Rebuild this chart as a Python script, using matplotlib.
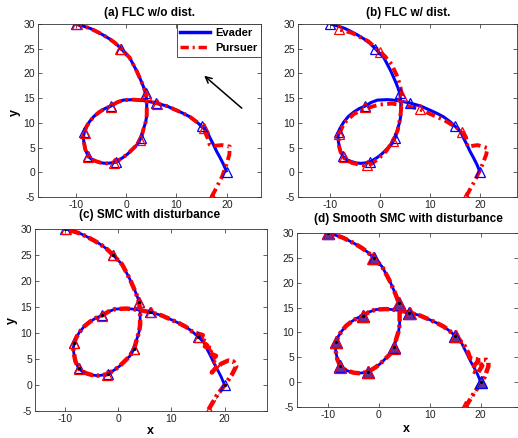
"""Evader / pursuer trajectories for four controllers (2x2 panels)."""

import matplotlib
matplotlib.use("Agg")
import matplotlib.pyplot as plt
from matplotlib.lines import Line2D

plt.rcParams["font.family"] = ["Liberation Sans", "DejaVu Sans"]
plt.rcParams["axes.unicode_minus"] = False

# ---- data ------------------------------------------------------------------
# Evader path (same in every panel), starting at (20, 0)
evader_x = [20.0, 19.4, 18.7, 18.0, 17.4, 16.7, 16.1, 15.0, 13.9, 12.7, 11.4,
            10.1, 8.1, 6.0, 4.1, 2.7, 1.4, -0.6, -1.9, -3.0, -4.2, -5.3, -6.4,
            -7.3, -7.9, -8.3, -8.5, -8.4, -8.1, -7.5, -6.8, -5.9, -4.9, -3.9,
            -3.0, -2.0, -0.6, 0.3, 1.1, 2.2, 3.0, 3.5, 3.9, 4.1, 4.1, 3.9, 3.6,
            3.1, 2.1, 0.7, -1.0, -2.1, -3.3, -4.6, -5.9, -7.1, -8.3, -9.2, -10.0]
evader_y = [0.0, 1.5, 2.9, 4.2, 5.5, 6.9, 8.2, 9.3, 10.3, 11.2, 11.9, 12.5,
            13.4, 14.0, 14.4, 14.6, 14.7, 14.6, 14.1, 13.4, 12.9, 12.2, 11.3,
            10.2, 9.2, 8.1, 7.1, 6.2, 4.6, 3.2, 2.6, 2.2, 1.9, 1.8, 1.9, 2.1,
            3.0, 3.7, 4.5, 5.6, 7.0, 8.9, 10.2, 11.5, 14.2, 16.0, 16.9, 18.2,
            20.5, 23.2, 25.0, 26.1, 27.0, 27.8, 28.5, 29.1, 29.5, 29.8, 30.0]
evader_mark_x = [20.0, 15.0, 6.0, -3.0, -8.3, -7.5, -2.0, 3.0, 3.9, -1.0, -10.0]
evader_mark_y = [0.0, 9.3, 14.0, 13.4, 8.1, 3.2, 2.1, 7.0, 16.0, 25.0, 30.0]
JOIN = 9  # pursuer rides on the evader path from this evader point on

# (a) FLC without disturbance: start segment, then on the evader path
pursuer_a_head_x = [17.0, 18.1, 19.1, 19.9, 20.5, 20.6, 19.0, 17.0, 16.6,
                    16.2, 15.3, 14.0]
pursuer_a_head_y = [-5.0, -2.8, -0.8, 1.5, 3.5, 5.2, 5.5, 5.3, 5.6, 6.9, 9.0,
                    10.2]
pursuer_a_mark_x = [17.0, 15.4, 6.2, -3.0, -8.2, -7.6, -2.4, 2.8, 4.0, -1.2, -9.8]
pursuer_a_mark_y = [-5.0, 9.0, 13.9, 13.3, 8.0, 3.0, 1.9, 6.6, 15.7, 25.0, 30.0]

# (b) FLC with disturbance: lags and sits below the evader
pursuer_b_x = [17.2, 18.9, 20.2, 21.2, 21.5, 19.5, 17.5, 17.2, 16.5, 15.5,
               12.9, 10.0, 7.6, 4.9, 2.3, -0.2, -3.0, -5.3, -7.3, -8.2, -8.4,
               -8.0, -7.3, -5.7, -3.5, -1.8, -0.3, 1.2, 2.6, 3.5, 4.0, 4.3,
               4.3, 4.0, 3.3, 2.3, 0.9, -0.2, -2.4, -5.7, -8.3]
pursuer_b_y = [-4.9, -1.8, 0.9, 3.5, 4.9, 5.5, 5.2, 6.9, 8.0, 8.9, 10.5, 11.8,
               12.9, 13.5, 13.9, 13.7, 12.9, 11.8, 9.9, 7.8, 5.8, 4.2, 2.9,
               1.9, 1.4, 1.7, 2.8, 4.3, 6.5, 8.5, 11.2, 14.0, 15.5, 17.5, 19.6,
               21.8, 23.5, 24.5, 26.5, 28.2, 28.9]
pursuer_b_mark_x = [17.2, 16.3, 7.9, -3.0, -8.3, -7.2, -2.7, 2.6, 4.3, 0.0, -8.3]
pursuer_b_mark_y = [-4.9, 8.2, 12.9, 13.2, 7.8, 3.0, 1.5, 6.3, 15.5, 24.3, 28.9]

# (c) SMC with disturbance: chattering near the start
pursuer_c_head_x = [17.0, 18.5, 20.1, 21.4, 22.2, 21.7, 20.7, 19.4, 18.3,
                    17.6, 18.8, 17.6, 18.4, 17.0, 17.8, 16.3, 16.9, 15.5, 15.9,
                    14.6, 13.9]
pursuer_c_head_y = [-4.7, -2.1, 0.1, 2.0, 3.6, 4.5, 4.7, 4.1, 3.0, 2.4, 3.8,
                    4.8, 5.6, 6.2, 7.0, 7.4, 8.2, 8.8, 9.6, 10.0, 10.3]

# (d) smooth SMC with disturbance: smaller start loop
pursuer_d_head_x = [16.9, 18.5, 19.8, 20.8, 21.5, 21.5, 21.1, 19.8, 18.8,
                    18.5, 19.4, 20.3, 19.2, 17.9, 17.6, 16.9, 16.0, 15.0, 13.9]
pursuer_d_head_y = [-5.2, -2.5, -0.5, 1.1, 3.2, 4.0, 4.5, 4.4, 3.5, 2.2, 1.8,
                    3.3, 4.6, 4.8, 5.8, 7.2, 8.3, 9.2, 10.3]
pursuer_cd_mark_x = [17.0, 15.1, 6.1, -3.0, -8.3, -7.5, -2.1, 3.0, 3.9, -1.1, -9.9]
pursuer_cd_mark_y = [-5.0, 9.2, 14.0, 13.3, 8.0, 3.1, 2.0, 6.9, 15.9, 25.0, 30.0]

guide_x = [20.0, 18.2]
guide_y = [0.0, -3.2]

titles = ["(a) FLC w/o dist.", "(b) FLC w/ dist.",
          "(c) SMC with disturbance", "(d) Smooth SMC with disturbance"]

W, H = 518, 438
DASH_FLC = (2.4, 1.1, 0.6, 1.1)
DASH_SMC = (2.4, 0.8, 0.6, 0.8)


def _rect(left, top, right, bottom):
    return [left / W, 1 - bottom / H, (right - left) / W, (bottom - top) / H]


def _style(ax, xlim):
    ax.set_xlim(*xlim)
    ax.set_ylim(-5, 30)
    ax.set_xticks([-10, 0, 10, 20])
    ax.set_yticks([-5, 0, 5, 10, 15, 20, 25, 30])
    ax.tick_params(direction="in", length=3, width=0.5, labelsize=7.5,
                   top=True, right=True, pad=2, colors="#222222")
    for sp in ax.spines.values():
        sp.set_linewidth(0.6)
        sp.set_color("#333333")


def _draw(ax, px, py, emark, pmark, lw_b=2.2, lw_r=2.8, dashes=DASH_FLC,
          filled=False, dots=False):
    ax.plot(evader_x, evader_y, color="blue", lw=lw_b, solid_capstyle="butt")
    ax.plot(px, py, color="red", lw=lw_r, dashes=dashes)
    if filled:
        ax.plot(*emark, ls="none", marker="^", ms=8, mfc="#6b2d90",
                mec="blue", mew=1.0)
        ax.plot(*pmark, ls="none", marker="^", ms=8, mfc="none",
                mec="red", mew=0.9)
    else:
        ax.plot(*emark, ls="none", marker="^", ms=6.5, mfc="none",
                mec="blue", mew=0.9)
        ax.plot(*pmark, ls="none", marker="^", ms=6.5, mfc="none",
                mec="red", mew=0.9)
    if dots:
        ax.plot(*emark, ls="none", marker=".", ms=2.5, color="black")
        ax.plot(guide_x, guide_y, color="black", lw=0.6, ls=":")


fig = plt.figure(figsize=(W / 100, H / 100), dpi=100)

ax_a = fig.add_axes(_rect(38, 24, 261, 197))
ax_b = fig.add_axes(_rect(297.5, 24, 517, 197))
ax_c = fig.add_axes(_rect(35, 229, 267, 411))
ax_d = fig.add_axes(_rect(297, 233, 517.5, 407))

emark = (evader_mark_x, evader_mark_y)

# (a)
pa_x = pursuer_a_head_x + evader_x[JOIN:]
pa_y = pursuer_a_head_y + evader_y[JOIN:]
_draw(ax_a, pa_x, pa_y, emark, (pursuer_a_mark_x, pursuer_a_mark_y))
_style(ax_a, (-17.5, 26.8))
handles = [Line2D([], [], color="blue", lw=2.5),
           Line2D([], [], color="red", lw=2.5, dashes=DASH_FLC)]
leg = ax_a.legend(handles, ["Evader", "Pursuer"], loc="upper right",
                  bbox_to_anchor=(1.0, 1.0), borderaxespad=0, fancybox=False,
                  framealpha=1, edgecolor="#333333", handlelength=2.7,
                  labelspacing=0.45, borderpad=0.35, handletextpad=0.4,
                  prop={"weight": "bold", "size": 8})
leg.get_frame().set_linewidth(0.6)
ax_a.annotate("", xy=(15.1, 19.9), xytext=(23.4, 12.6),
              arrowprops=dict(arrowstyle="->", color="black", lw=1.1,
                              mutation_scale=11))

# (b)
_draw(ax_b, pursuer_b_x, pursuer_b_y, emark, (pursuer_b_mark_x, pursuer_b_mark_y))
_style(ax_b, (-16.6, 27.4))

# (c)
pc_x = pursuer_c_head_x + evader_x[JOIN:]
pc_y = pursuer_c_head_y + evader_y[JOIN:]
_draw(ax_c, pc_x, pc_y, emark, (pursuer_cd_mark_x, pursuer_cd_mark_y),
      lw_b=2.0, lw_r=3.2, dashes=DASH_SMC, dots=True)
_style(ax_c, (-15.7, 28.0))

# (d)
pd_x = pursuer_d_head_x + evader_x[JOIN:]
pd_y = pursuer_d_head_y + evader_y[JOIN:]
_draw(ax_d, pd_x, pd_y, emark, (pursuer_cd_mark_x, pursuer_cd_mark_y),
      lw_b=2.0, lw_r=3.2, dashes=DASH_SMC, filled=True, dots=True)
_style(ax_d, (-16.0, 27.2))

# titles and axis labels placed in pixel positions
for (cx, cy), title in zip([(150, 13), (408, 13), (150, 215), (408, 219)], titles):
    fig.text(cx / W, 1 - cy / H, title, ha="center", va="center",
             fontsize=8.5, fontweight="bold")
for cx, cy in [(15, 112), (12, 320)]:
    fig.text(cx / W, 1 - cy / H, "y", ha="center", va="center",
             fontsize=9, fontweight="bold", rotation=90)
for cx, cy in [(150, 431), (406, 429)]:
    fig.text(cx / W, 1 - cy / H, "x", ha="center", va="center",
             fontsize=9, fontweight="bold")

fig.savefig("out.png", dpi=100)
plt.close(fig)
